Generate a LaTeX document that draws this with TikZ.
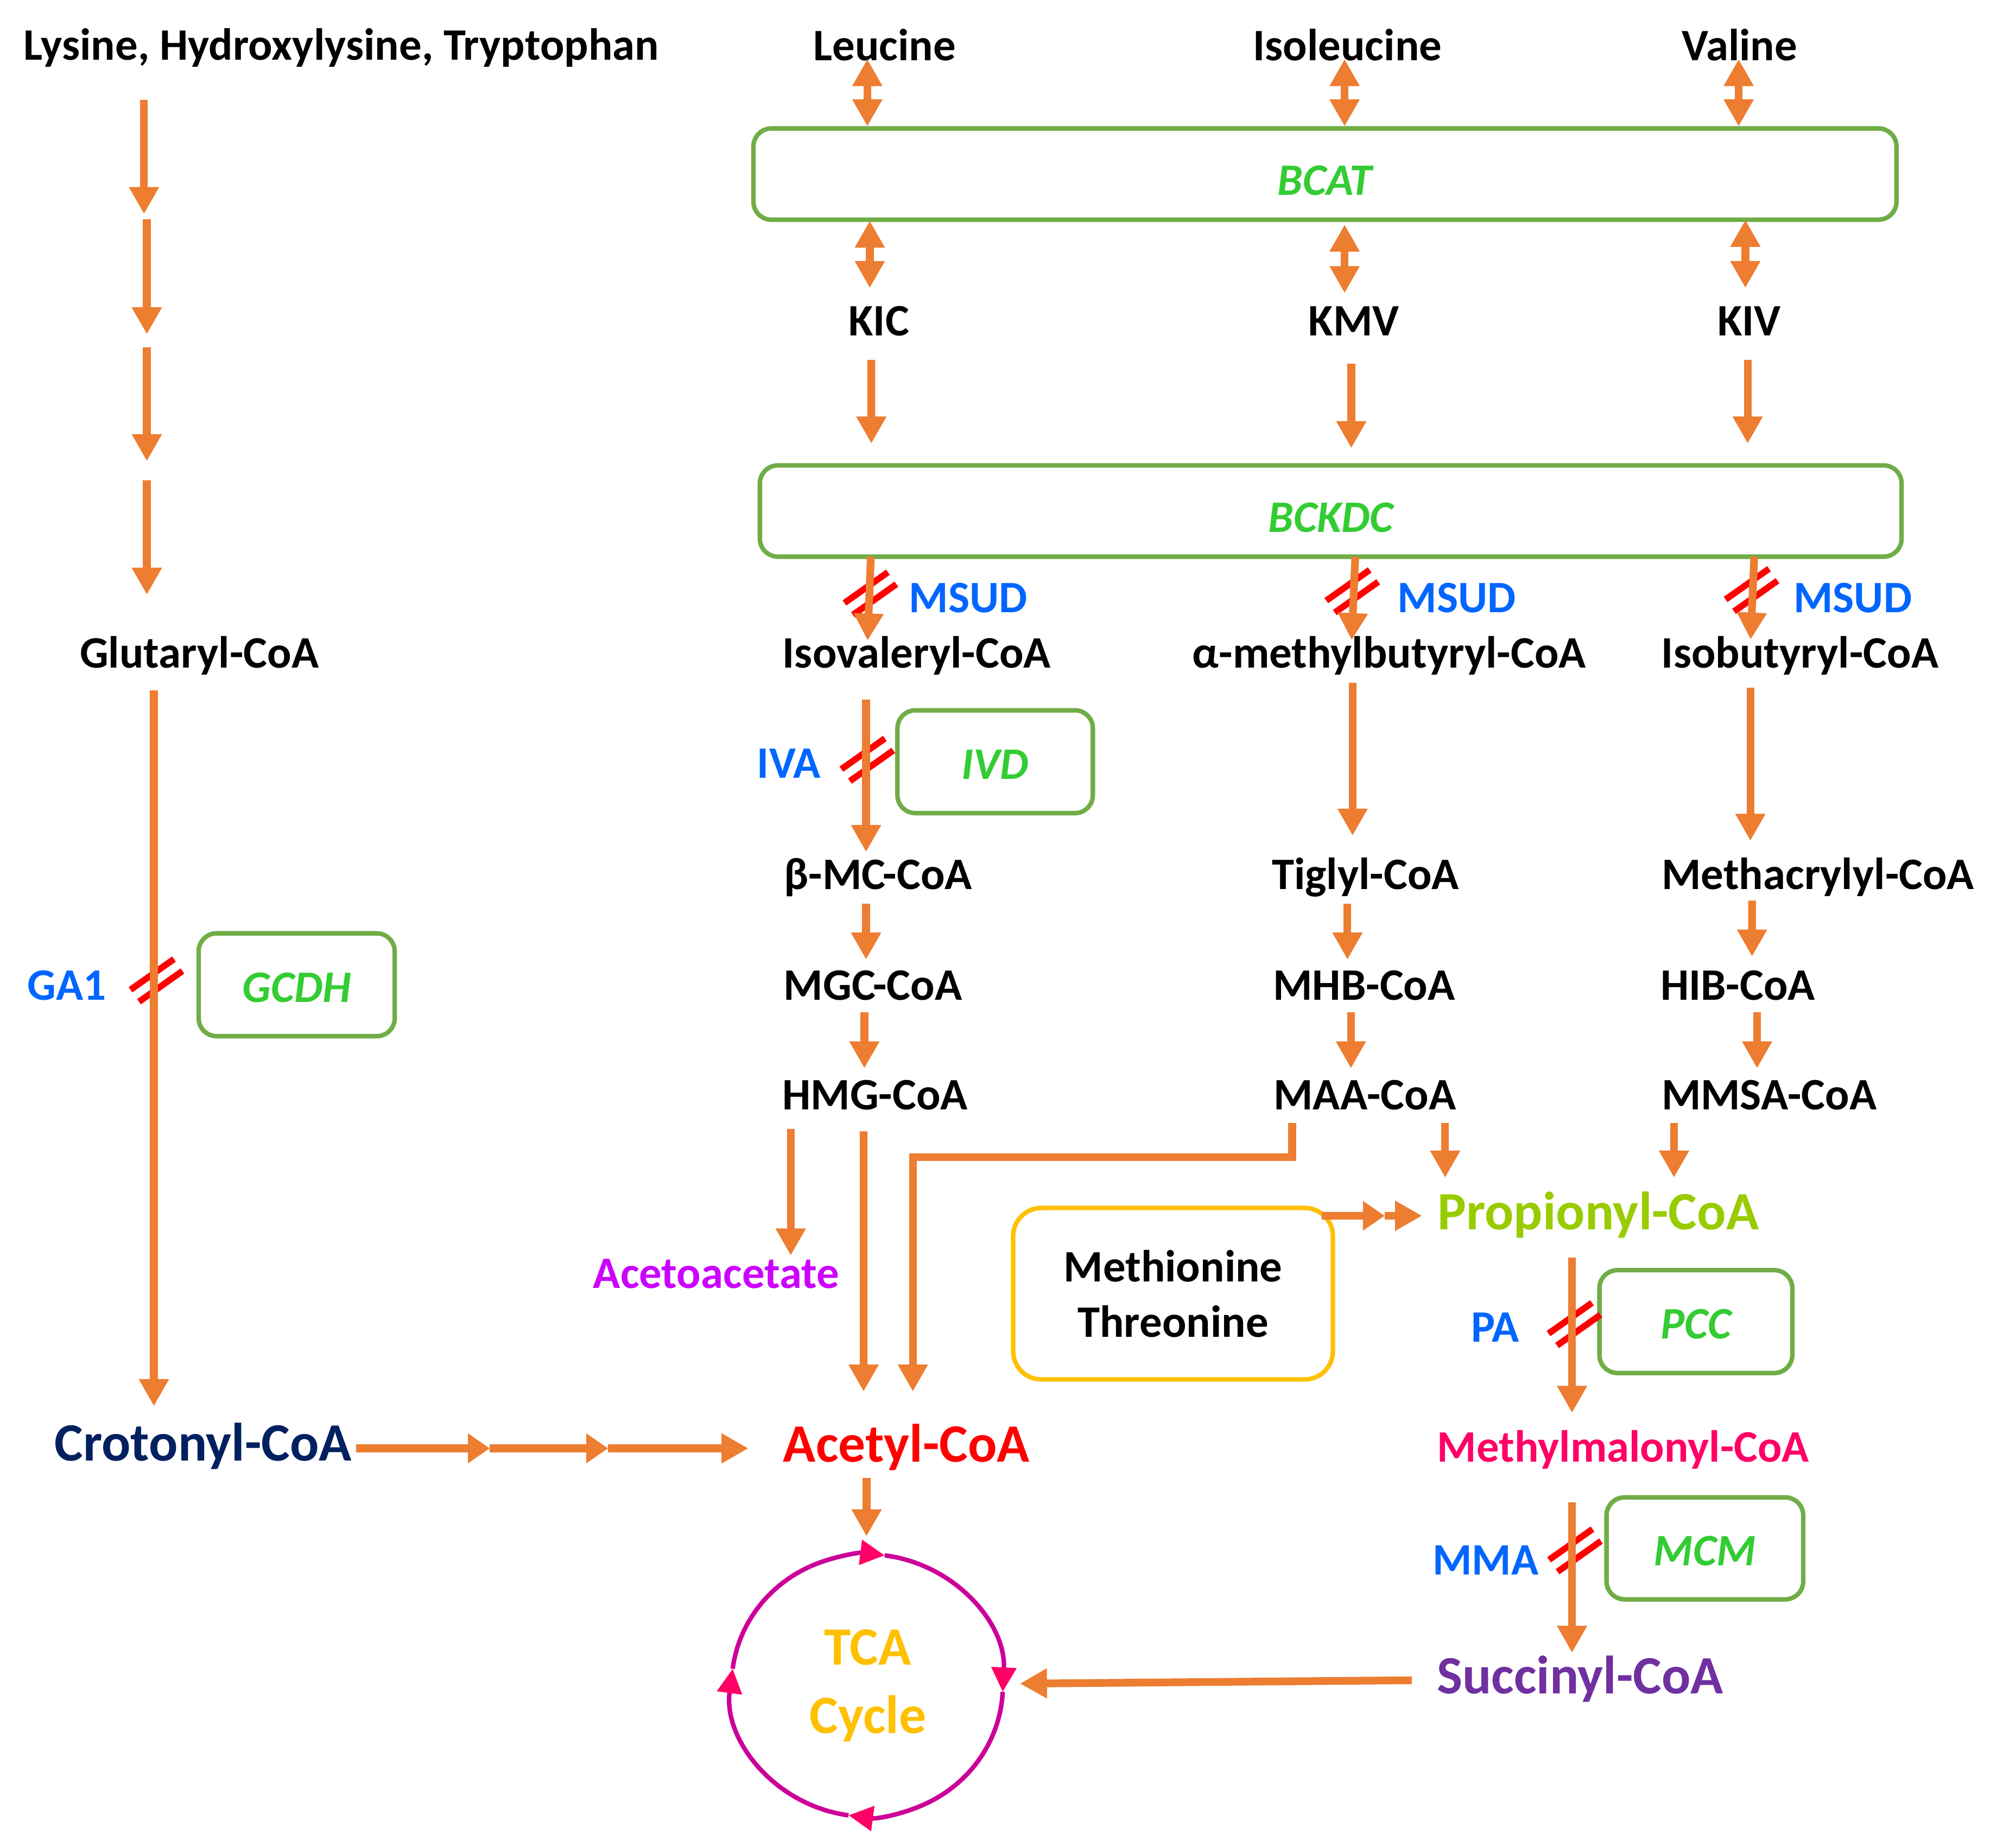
\documentclass[tikz,border=0pt]{standalone}
\usepackage{fontspec}
\setmainfont{Carlito}
\usetikzlibrary{arrows.meta,shapes.geometric}
\definecolor{arrc}{HTML}{ED7D31}
\definecolor{boxg}{HTML}{70AD47}
\definecolor{enzc}{HTML}{33CC33}
\definecolor{disc}{HTML}{0066FF}
\definecolor{slashc}{HTML}{FF0000}
\definecolor{crotc}{HTML}{002060}
\definecolor{acetc}{HTML}{FF0000}
\definecolor{acacc}{HTML}{CC00FF}
\definecolor{propc}{HTML}{99CC00}
\definecolor{mmalc}{HTML}{FF0066}
\definecolor{succc}{HTML}{7030A0}
\definecolor{tcac}{HTML}{FFC000}
\definecolor{cycc}{HTML}{CC0099}
\definecolor{tipc}{HTML}{FF0066}
\definecolor{methc}{HTML}{FFC000}
\newcommand\fsn{\fontsize{35}{42}\selectfont\bfseries}
\newcommand\fsb{\fontsize{42}{50}\selectfont\bfseries}
\tikzset{
  txt/.style={inner sep=0pt, outer sep=0pt, text height=22pt, text depth=0pt, font=\fsn},
  bigt/.style={inner sep=0pt, outer sep=0pt, text height=26.5pt, text depth=0pt, font=\fsb},
  dis/.style={txt, text=disc},
  enzbox/.style={draw=boxg, line width=3.5pt, rounded corners=14pt, inner sep=0pt, outer sep=0pt,
     text height=27pt, text depth=0pt, font=\fsn\itshape, text=enzc},
  arr/.style={draw=arrc, line width=6pt, -{Triangle[length=21pt,width=22pt]}},
  arrs/.style={draw=arrc, line width=6pt, -{Triangle[length=17pt,width=22pt]}},
  darr/.style={draw=arrc, line width=6pt, {Triangle[length=21pt,width=22pt]}-{Triangle[length=21pt,width=22pt]}},
  slashln/.style={draw=slashc, line width=5pt},
  cyca/.style={draw=cycc, line width=3.5pt, -{Triangle[length=19pt,width=19pt,color=tipc]}},
  pics/slashpair/.style={code={
     \draw[slashln] (-20.2,7.3) -- (13.6,-16.6);
     \draw[slashln] (-13.6,16.6) -- (20.2,-7.3);}}
}
\begin{document}
\begin{tikzpicture}[x=1pt, y=-1pt]
\path[use as bounding box, fill=white] (0,0) rectangle (1568,1436.7);

% ---- nodes ----
\node[txt] (lys) at (265.5,35.5) {Lysine, Hydroxylysine, Tryptophan};
\node[txt] (leu) at (688,36) {Leucine};
\node[txt] (ile) at (1048,36) {Isoleucine};
\node[txt] (val) at (1353,36) {Valine};
\node[enzbox, text height=33pt, minimum width=889pt, minimum height=71pt] (bcat) at (1030.5,135.4) {BCAT};
\node[txt] (kic) at (683.6,250) {KIC};
\node[txt] (kmv) at (1053,250) {KMV};
\node[txt] (kiv) at (1360.5,250) {KIV};
\node[enzbox, text height=33pt, minimum width=888pt, minimum height=71pt] (bckdc) at (1035,397.5) {BCKDC};
\node[dis] (msud1) at (753,465.5) {MSUD};
\node[dis] (msud2) at (1133,465.5) {MSUD};
\node[dis] (msud3) at (1441,465.5) {MSUD};
\node[txt] (glut) at (155,508.5) {Glutaryl-CoA};
\node[txt] (isov) at (713,508.5) {Isovaleryl-CoA};
\node[txt] (amb) at (1080.5,508.5) {α-methylbutyryl-CoA};
\node[txt] (isob) at (1400,508.5) {Isobutyryl-CoA};
\node[dis] (iva) at (613.6,594) {IVA};
\node[enzbox, minimum width=152pt, minimum height=80pt] (ivd) at (774,592.5) {IVD};
\node[txt] (bmc) at (683,680.6) {β-MC-CoA};
\node[txt] (tig) at (1062,680.6) {Tiglyl-CoA};
\node[txt] (mac) at (1414,680.6) {Methacrylyl-CoA};
\node[txt] (mgc) at (679,767) {MGC-CoA};
\node[txt] (mhb) at (1061,767) {MHB-CoA};
\node[txt] (hib) at (1351.6,767) {HIB-CoA};
\node[txt] (hmg) at (680.6,852) {HMG-CoA};
\node[txt] (maa) at (1061.5,852) {MAA-CoA};
\node[txt] (mmsa) at (1376,852) {MMSA-CoA};
\node[dis] (ga1) at (52,767) {GA1};
\node[enzbox, minimum width=152.5pt, minimum height=80pt] (gcdh) at (230.75,766) {GCDH};
\node[txt, text=acacc] (acac) at (557,991) {Acetoacetate};
\node[draw=methc, line width=3.5pt, rounded corners=22pt, minimum width=248.7pt, minimum height=133.4pt,
      align=center, font={\fontsize{35}{43}\selectfont\bfseries}, inner sep=0pt, outer sep=0pt]
      (meth) at (912.35,1006.3) {Methionine\\Threonine};
\node[bigt, text=propc] (prop) at (1243,943) {Propionyl-CoA};
\node[dis] (pa) at (1163,1033) {PA};
\node[enzbox, minimum width=150pt, minimum height=80pt] (pcc) at (1319,1028) {PCC};
\node[bigt, text=crotc] (crot) at (158,1123) {Crotonyl-CoA};
\node[bigt, text=acetc] (acet) at (705,1124) {Acetyl-CoA};
\node[txt, text=mmalc] (mmal) at (1262.5,1126) {Methylmalonyl-CoA};
\node[dis] (mma) at (1155.5,1214) {MMA};
\node[enzbox, minimum width=153pt, minimum height=79.3pt] (mcm) at (1326,1204.4) {MCM};
\node[bigt, text=succc] (succ) at (1229,1304) {Succinyl-CoA};
\node[ellipse, minimum width=211pt, minimum height=204pt, inner sep=0pt, outer sep=0pt] (tca) at (674.5,1311) {};
\node[bigt, text=tcac] (tcat) at (675,1282) {TCA};
\node[bigt, text=tcac] (cyct) at (675,1335) {Cycle};

% ---- TCA cycle arrows ----
\draw[cyca] ([shift={(-172.7:105.5 and 102)}]tca.center) arc[start angle=-172.7, end angle=-82.6, x radius=105.5, y radius=102];
\draw[cyca] ([shift={(-82.6:105.5 and 102)}]tca.center) arc[start angle=-82.6, end angle=2.8, x radius=105.5, y radius=102];
\draw[cyca] ([shift={(2.8:105.5 and 102)}]tca.center) arc[start angle=2.8, end angle=97.9, x radius=105.5, y radius=102];
\draw[cyca] ([shift={(97.9:105.5 and 102)}]tca.center) arc[start angle=97.9, end angle=187.3, x radius=105.5, y radius=102];

% ---- block marks ----
\pic at (121.7,762.6) {slashpair};
\pic at (677,461.7) {slashpair};
\pic at (1051.75,459.9) {slashpair};
\pic at (1362.3,459) {slashpair};
\pic at (674.6,591) {slashpair};
\pic at (1224.6,1030) {slashpair};
\pic at (1225,1206) {slashpair};

% ---- left column ----
\coordinate (st1) at (113,168);
\coordinate (st2) at (114.2,265);
\coordinate (st3) at (114.2,366);
\draw[arr] ([shift={(-153.5,31)}]lys.south) -- ([shift={(-1,-1.5)}]st1);
\draw[arr] ([shift={(1.2,2.5)}]st1) -- ([shift={(0,-5)}]st2);
\draw[arr] ([shift={(0,5)}]st2) -- ([shift={(0,-7.3)}]st3);
\draw[arr] ([shift={(0,7.5)}]st3) -- ([shift={(-40.8,-34.9)}]glut.north);
\draw[arr] ([shift={(-35.3,17.5)}]glut.south) -- ([shift={(-38.3,-16)}]crot.north);

% ---- BCAT ----
\draw[darr] ([shift={(-13.4,-1)}]leu.south) -- ([shift={(-355.9,-1.6)}]bcat.north);
\draw[darr] ([shift={(-2.2,-1)}]ile.south) -- ([shift={(15.3,-1.6)}]bcat.north);
\draw[darr] ([shift={(-0.7,-1)}]val.south) -- ([shift={(321.8,-1.6)}]bcat.north);
\draw[darr] ([shift={(-354,0.8)}]bcat.south) -- ([shift={(-7.1,-15)}]kic.north);
\draw[darr] ([shift={(15.3,3.8)}]bcat.south) -- ([shift={(-7.2,-11)}]kmv.north);
\draw[darr] ([shift={(327,0.1)}]bcat.south) -- ([shift={(-3,-15)}]kiv.north);

% ---- BCKDC ----
\draw[arr] ([shift={(-5.9,19)}]kic.south) -- ([shift={(-357.3,-17)}]bckdc.north);
\draw[arr] ([shift={(-2,22)}]kmv.south) -- ([shift={(16,-13.4)}]bckdc.north);
\draw[arr] ([shift={(-1.2,19)}]kiv.south) -- ([shift={(324.3,-17)}]bckdc.north);
\draw[arr] ([shift={(-357.7,0)}]bckdc.south) -- ([shift={(-38.2,0.7)}]isov.north);
\draw[arr] ([shift={(19.1,0)}]bckdc.south) -- ([shift={(-29.2,0.4)}]amb.north);
\draw[arr] ([shift={(329.4,0)}]bckdc.south) -- ([shift={(-38.4,0)}]isob.north);

% ---- chains ----
\draw[arr] ([shift={(-39.4,24.5)}]isov.south) -- ([shift={(-9.4,-6.9)}]bmc.north);
\draw[arr] ([shift={(-28.5,11.5)}]amb.south) -- ([shift={(-10,-19.6)}]tig.north);
\draw[arr] ([shift={(-38.6,15.5)}]isob.south) -- ([shift={(-52.6,-15.6)}]mac.north);
\draw[arr] ([shift={(-9.4,11.4)}]bmc.south) -- ([shift={(-5.4,-9.6)}]mgc.north);
\draw[arr] ([shift={(-14,11.4)}]tig.south) -- ([shift={(-13,-9.6)}]mhb.north);
\draw[arr] ([shift={(-51.3,9)}]mac.south) -- ([shift={(11.1,-12)}]hib.north);
\draw[arr] ([shift={(-6.7,9.4)}]mgc.south) -- ([shift={(-8.3,-10)}]hmg.north);
\draw[arr] ([shift={(-10.3,9.4)}]mhb.south) -- ([shift={(-10.8,-10)}]maa.north);
\draw[arr] ([shift={(15,9.4)}]hib.south) -- ([shift={(-9.4,-10)}]mmsa.north);
\draw[arr] ([shift={(-65.6,15)}]hmg.south) -- ([shift={(58,-3.4)}]acac.north);
\draw[arr] ([shift={(-8.9,17)}]hmg.south) -- ([shift={(-33.3,-28.35)}]acet.north);
\draw[arr] ([shift={(-56.5,10.5)}]maa.south) -- ++(0,26.5) -| ([shift={(5,-28.35)}]acet.north);
\draw[arr] ([shift={(62.5,10.5)}]maa.south) -- ([shift={(-119,-13.75)}]prop.north);
\draw[arr] ([shift={(-74,10.5)}]mmsa.south) -- ([shift={(59,-13.75)}]prop.north);

% ---- Methionine/Threonine ----
\coordinate (mp) at (1077,945.7);
\draw[arrs] ([shift={(-8.7,6.1)}]meth.north east) -- (mp);
\draw[arr] (mp) -- ([shift={(-12,2.7)}]prop.west);

% ---- Crotonyl -> Acetyl ----
\coordinate (cr1) at (381,1126.6);
\coordinate (cr2) at (473,1126.6);
\draw[arrs] ([shift={(3.6,3.6)}]crot.east) -- (cr1);
\draw[arrs] (cr1) -- (cr2);
\draw[arr] (cr2) -- ([shift={(-27,2.6)}]acet.west);

% ---- propionyl pathway ----
\draw[arr] ([shift={(-20.3,21.75)}]prop.south) -- ([shift={(-39.8,-16)}]mmal.north);
\draw[arr] ([shift={(-39.8,31.5)}]mmal.south) -- ([shift={(-6.3,-5.15)}]succ.north);
\draw[arr] ([shift={(-31,12.35)}]acet.south) -- ([shift={(-0.5,-14)}]tca.north);
\draw[arr] ([shift={(-19.5,3)}]succ.west) -- ([shift={(13.3,-1.4)}]tca.east);
\end{tikzpicture}
\end{document}
